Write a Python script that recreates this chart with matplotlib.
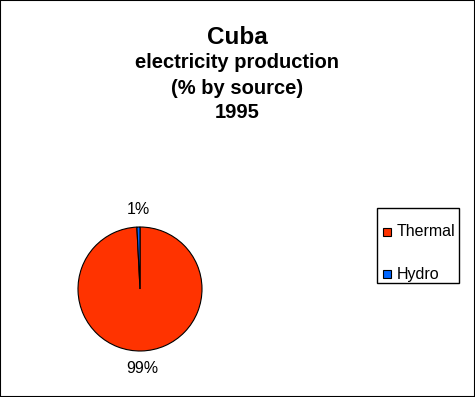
import numpy as np
import matplotlib.pyplot as plt
from matplotlib.patches import Rectangle

plt.rcParams['font.family'] = ['Liberation Sans', 'DejaVu Sans']

sources = ['Thermal', 'Hydro']
shares = [99.2, 0.8]
colours = ['#FF3300', '#0066FF']
pct_labels = ['99%', '1%']

W, H = 475, 397
fig = plt.figure(figsize=(W / 100, H / 100), dpi=100)
fig.patches.append(Rectangle((0, 0), 1, 1, transform=fig.transFigure,
                             fill=False, edgecolor='black', linewidth=1.5))

def px(x, y):
    # pixel coords (top-left origin) -> figure fraction
    return x / W, 1 - y / H

# titles
fig.text(*px(237, 38), 'Cuba', ha='center', va='center', fontsize=17.5, fontweight='bold')
fig.text(*px(237, 63), 'electricity production', ha='center', va='center', fontsize=14.5, fontweight='bold')
fig.text(*px(237, 88), '(% by source)', ha='center', va='center', fontsize=14.5, fontweight='bold')
fig.text(*px(237, 113), '1995', ha='center', va='center', fontsize=14.5, fontweight='bold')

# pie, centred at ~(140, 289) px with radius ~62 px
ax = fig.add_axes([78 / W, (H - 351) / H, 124 / W, 124 / H])
wedges, texts = ax.pie(shares, colors=colours, startangle=90, counterclock=False,
                       wedgeprops=dict(edgecolor='black', linewidth=0.8))
for w, lab in zip(wedges, pct_labels):
    ang = np.deg2rad((w.theta1 + w.theta2) / 2)
    ax.text(1.28 * np.cos(ang), 1.28 * np.sin(ang), lab, ha='center', va='center', fontsize=11.5)
ax.set_xlim(-1, 1)
ax.set_ylim(-1, 1)
ax.set_aspect('equal')
ax.axis('off')

# legend box
x0, y0 = px(377, 283)
fig.patches.append(Rectangle((x0, y0), 82 / W, 75 / H, transform=fig.transFigure,
                             facecolor='white', edgecolor='black', linewidth=1))
for i, (s, c) in enumerate(zip(sources, colours)):
    yc = 232 + 42 * i
    fig.patches.append(Rectangle(px(383, yc + 4), 8 / W, 8 / H, transform=fig.transFigure,
                                 facecolor=c, edgecolor='black', linewidth=0.8))
    fig.text(*px(397, yc), s, ha='left', va='center', fontsize=11.5)

fig.savefig('out.png', dpi=100)
